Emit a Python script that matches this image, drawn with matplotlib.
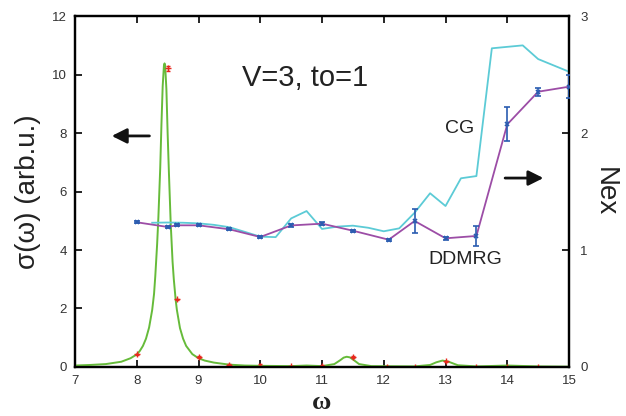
import matplotlib
matplotlib.use("Agg")
import matplotlib.pyplot as plt

plt.rcParams['font.family'] = ['Liberation Sans', 'DejaVu Sans']

# Green curve sigma(omega) (left axis)
green_x = [7.0, 7.25, 7.5, 7.75, 7.9, 8.0, 8.05, 8.1, 8.15, 8.2, 8.25, 8.28, 8.3, 8.33,
           8.35, 8.38, 8.4, 8.42, 8.44, 8.45, 8.46, 8.48, 8.5, 8.52, 8.55, 8.58, 8.6,
           8.63, 8.65, 8.7, 8.75, 8.8, 8.9, 9.0, 9.1, 9.25, 9.5, 9.75, 10.0, 10.5,
           10.75, 11.0, 11.2, 11.3, 11.35, 11.4, 11.45, 11.5, 11.6, 11.8, 12.5, 12.75,
           12.85, 12.95, 13.05, 13.2, 13.5, 14.0, 14.5, 15.0]
green_y = [0.05, 0.07, 0.1, 0.18, 0.3, 0.43, 0.55, 0.72, 0.97, 1.35, 1.95, 2.5, 3.1, 4.2,
           5.1, 6.8, 8.3, 9.6, 10.3, 10.38, 10.3, 9.5, 8.0, 6.7, 4.9, 3.6, 3.0,
           2.3, 1.95, 1.33, 0.97, 0.72, 0.44, 0.3, 0.22, 0.15, 0.08, 0.05, 0.04, 0.03,
           0.05, 0.03, 0.1, 0.24, 0.32, 0.35, 0.33, 0.26, 0.1, 0.03, 0.02, 0.07,
           0.16, 0.22, 0.18, 0.06, 0.02, 0.05, 0.02, 0.01]

# Red DDMRG sigma points (left axis)
red_x = [8.0, 8.5, 8.65, 9.0, 9.5, 10.0, 10.5, 11.0, 11.5, 12.05, 12.5, 13.0, 13.5, 14.0, 14.5, 15.0]
red_y = [0.43, 10.21, 2.31, 0.34, 0.08, 0.04, 0.03, 0.04, 0.35, 0.01, 0.0, 0.19, 0.0, 0.0, 0.0, 0.0]
red_err = [0.03, 0.08, 0.03, 0.03, 0.02, 0.06, 0.02, 0.02, 0.03, 0.01, 0.01, 0.02, 0.01, 0.01, 0.01, 0.01]

# DDMRG Nex (right axis)
dd_x = [8.0, 8.5, 8.65, 9.0, 9.5, 10.0, 10.5, 11.0, 11.5, 12.08, 12.5, 13.0, 13.5, 14.0, 14.5, 15.0]
dd_y = [1.237, 1.197, 1.211, 1.211, 1.177, 1.111, 1.21, 1.225, 1.165, 1.088, 1.248, 1.10, 1.12, 2.074, 2.353, 2.396]
dd_err = [0.01, 0.01, 0.01, 0.01, 0.01, 0.012, 0.01, 0.015, 0.01, 0.01, 0.1, 0.015, 0.088, 0.145, 0.035, 0.097]

# CG Nex (right axis)
cg_x = [8.25, 8.5, 8.75, 9.0, 9.25, 9.5, 9.75, 10.0, 10.25, 10.5, 10.75, 11.0, 11.25, 11.5,
        11.75, 12.0, 12.25, 12.5, 12.75, 13.0, 13.25, 13.5, 13.75, 14.25, 14.5, 15.0]
cg_y = [1.233, 1.235, 1.233, 1.228, 1.215, 1.195, 1.155, 1.114, 1.11, 1.27, 1.333, 1.18, 1.20, 1.208,
        1.19, 1.16, 1.185, 1.319, 1.485, 1.376, 1.613, 1.632, 2.724, 2.749, 2.632, 2.524]

fig = plt.figure(figsize=(6.26, 4.16), dpi=100)
ax = fig.add_axes([0.1198, 0.1178, 0.7892, 0.8437])
ax2 = ax.twinx()

green = '#66bb3a'
cyan = '#5ccbd6'
purple = '#9c4da6'
blue = '#2a5cb0'
red = '#e8281e'

ax.plot(green_x, green_y, color=green, lw=1.4, zorder=3)
ax.errorbar(red_x, red_y, yerr=red_err, fmt='+', color=red, ms=4, mew=1.0,
            capsize=1.5, elinewidth=1.0, zorder=4)

ax2.plot(cg_x, cg_y, color=cyan, lw=1.3, zorder=2)
ax2.plot(dd_x, dd_y, color=purple, lw=1.3, zorder=3)
ax2.errorbar(dd_x, dd_y, yerr=dd_err, fmt='x', color=blue, ms=3.5, mew=1.2,
             capsize=2.2, elinewidth=1.2, capthick=1.2, zorder=4)

ax.set_xlim(7, 15)
ax.set_ylim(0, 12)
ax2.set_ylim(0, 3)
ax.set_xticks(range(7, 16))
ax.set_yticks(range(0, 13, 2))
ax2.set_yticks([0, 1, 2, 3])

for a in (ax, ax2):
    for s in a.spines.values():
        s.set_linewidth(1.6)
ax.tick_params(axis='both', direction='in', length=5, width=1.2, labelsize=9.5,
               top=True, pad=6, labelcolor='#333333')
ax.tick_params(axis='y', right=False)
ax2.tick_params(axis='y', direction='in', length=5, width=1.2, labelsize=9.5, pad=8,
                labelcolor='#333333')

ax.set_ylabel('σ(ω) (arb.u.)', fontsize=20, labelpad=8, color='#222222')
ax2.set_ylabel('Nex', fontsize=20, rotation=-90, labelpad=22, color='#222222')
ax.set_xlabel('ω', fontsize=19, labelpad=3, family=['Liberation Serif', 'DejaVu Serif'],
              fontweight='bold', color='#222222')

ax.text(10.72, 9.88, 'V=3, to=1', fontsize=21, ha='center', va='center', color='#222222')
ax.text(13.23, 8.17, 'CG', fontsize=14, ha='center', va='center', color='#222222')
ax.text(13.32, 3.66, 'DDMRG', fontsize=14, ha='center', va='center', color='#222222')

ax.annotate('', xy=(7.55, 7.9), xytext=(8.25, 7.9),
            arrowprops=dict(arrowstyle='-|>,head_length=0.9,head_width=0.45', color='#111111', lw=2))
ax.annotate('', xy=(14.63, 6.46), xytext=(13.92, 6.46),
            arrowprops=dict(arrowstyle='-|>,head_length=0.9,head_width=0.45', color='#111111', lw=2))

fig.savefig('out.png', dpi=100)
